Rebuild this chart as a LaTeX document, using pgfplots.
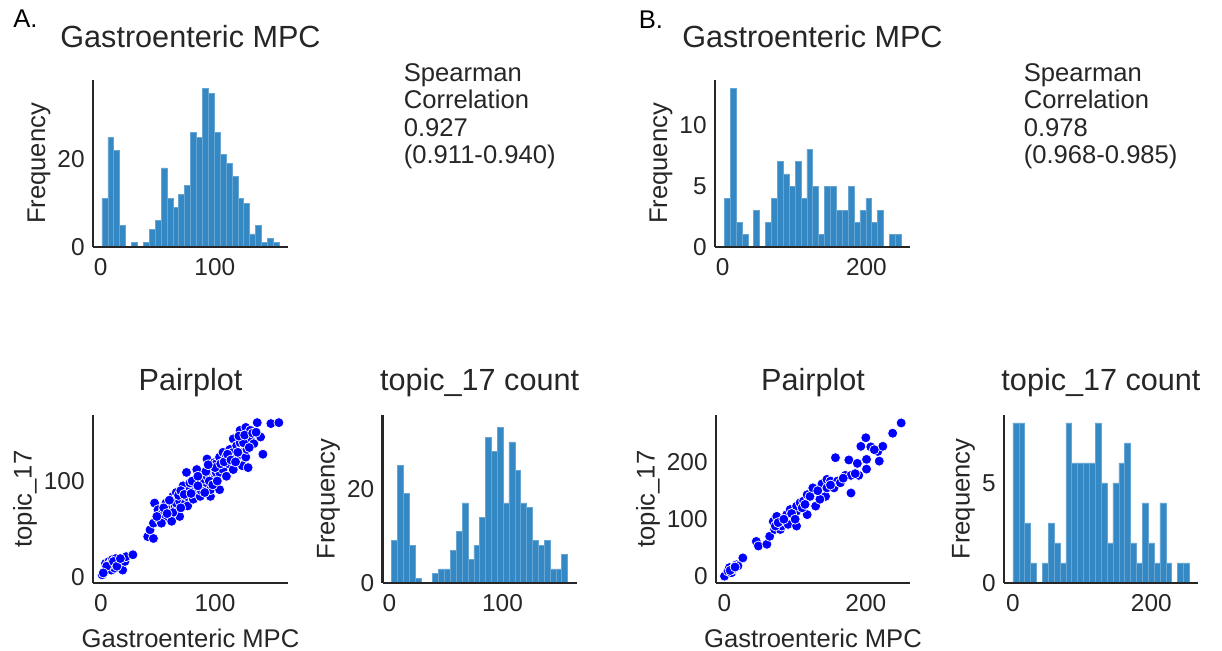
\documentclass[border=0pt]{standalone}
\usepackage{fontspec}
\setmainfont{Liberation Sans}
\usepackage{pgfplots}
\pgfplotsset{compat=1.18}
\definecolor{barblue}{RGB}{52,136,195}
\definecolor{spine}{RGB}{38,38,38}
\pgfplotsset{
  base/.style={
    scale only axis, anchor=south west,
    axis lines=left, axis line style={draw=spine, line width=1.2pt, -},
    axis on top,
    major tick length=0pt,
    tick style={draw=none},
    /pgf/number format/assume math mode=true,
    ticklabel style={font=\fontsize{12.2}{12}\selectfont, text=spine},
    xticklabel style={anchor=north, inner sep=0pt, yshift=-5.5pt},
    yticklabel style={anchor=east, inner sep=0pt, xshift=-4pt},
    label style={font=\fontsize{12.8}{13}\selectfont, text=spine},
    xlabel style={inner sep=0pt, yshift=-8.5pt},
    title style={font=\fontsize{15.3}{15}\selectfont, text=spine, anchor=base},
  },
  hist/.style={base, ymin=0, ylabel={Frequency}},
  histbar/.style={ybar interval, fill=barblue, draw=barblue!75!white, line width=0.3pt},
  dots/.style={only marks, mark=*, mark size=2.5pt, mark options={fill=blue, draw=white, line width=0.35pt}},
}
\begin{document}
\begin{tikzpicture}
\useasboundingbox (0,0) rectangle (611pt,325.5pt);

% ---------------- A: top histogram
\begin{axis}[hist, at={(46.5pt,202pt)}, width=97.5pt, height=83.5pt,
  xmin=-6.6, xmax=164, ymax=38, xtick={0,100}, ytick={0,20},
  title={Gastroenteric MPC}, title style={yshift=10pt}]
\addplot[histbar] coordinates {
(1.2,11) (6.37,25) (11.54,22) (16.71,5) (21.88,0) (27.05,1) (32.22,0) (37.39,1)
(42.56,4) (47.73,6) (52.9,18) (58.07,11) (63.24,9) (68.41,12) (73.58,14) (78.75,26)
(83.92,25) (89.09,36) (94.26,35) (99.43,26) (104.6,21) (109.77,19) (114.94,16) (120.11,11)
(125.28,10) (130.45,3) (135.62,5) (140.79,1) (145.96,2) (151.13,1) (156.3,1)};
\end{axis}

% ---------------- A: pairplot
\begin{axis}[base, at={(46.5pt,34pt)}, width=97.5pt, height=84pt,
  xmin=-7, xmax=164, ymin=-6.5, ymax=169, xtick={0,100}, ytick={0,100},
  xlabel={Gastroenteric MPC}, ylabel={topic\_17},
  title={Pairplot}, title style={yshift=6pt}]
\addplot[dots] coordinates {
(1,2) (3,5) (4,7) (4,14) (6,9) (7,12) (7,16) (9,7) (10,18) (12,9) (12,14) (13,19)
(15,14) (16,16) (18,11) (19,7) (21,16) (22,21) (28,23) (8,13) (5,11) (11,16) (14,11)
(17,19) (2,4)
(41,42) (46,40) (43,49) (46,56) (51,60) (47,77) (50,70) (54,67) (57,77) (60,70) (57,63)
(53,56) (49,63) (63,84) (66,88) (65,74) (69,63) (63,67) (66,77) (69,79) (72,95) (74,77)
(76,74) (75,84) (78,91) (75,109) (82,98) (78,98) (81,81) (84,112) (84,88) (87,84) (87,98)
(90,95) (90,102) (93,105) (93,123) (96,84) (96,91) (97,112) (99,102) (99,119) (101,118)
(101,109) (104,109) (104,91) (104,125) (107,130) (107,112) (110,105) (110,121) (110,126)
(112,118) (113,133) (116,144) (116,112) (116,130) (119,125) (119,137) (122,153) (122,140)
(124,116) (124,130) (127,156) (127,125) (128,133) (129,114) (131,153) (131,144) (134,139)
(137,161) (140,146) (142,128) (149,160) (156,161)
(55,72) (60,80) (68,85) (70,90) (80,100) (85,105) (88,90) (92,110) (95,100) (98,96)
(100,114) (102,100) (105,118) (108,120) (111,128) (114,122) (118,120) (120,130) (125,140)
(121,147) (126,148) (130,135) (133,150) (136,151) (70,72) (73,86) (79,87) (91,88) (85,95)
(94,117) (62,58) (58,66)};
\end{axis}

% ---------------- A: topic_17 count
\begin{axis}[hist, at={(191.3pt,34pt)}, width=97pt, height=84pt,
  xmin=-6, xmax=165.5, ymax=35.7, xtick={0,100}, ytick={0,20},
  title={topic\_17 count}, title style={yshift=6pt}]
\addplot[histbar] coordinates {
(2.1,9) (7.28,25) (12.46,19) (17.64,8) (22.82,1) (28.0,0) (33.18,0) (38.36,2)
(43.54,3) (48.72,3) (53.9,7) (59.08,11) (64.26,17) (69.44,5) (74.62,8) (79.8,14)
(84.98,31) (90.16,28) (95.34,33) (100.52,17) (105.7,30) (110.88,24) (116.06,17) (121.24,16)
(126.42,9) (131.6,8) (136.78,9) (141.96,3) (147.14,3) (152.32,6) (157.5,6)};
\end{axis}

% ---------------- B: top histogram
\begin{axis}[hist, at={(357.5pt,202pt)}, width=97.5pt, height=83.5pt,
  xmin=-10.5, xmax=260.5, ymax=13.7, xtick={0,200}, ytick={0,5,10},
  title={Gastroenteric MPC}, title style={yshift=10pt}]
\addplot[histbar] coordinates {
(2.4,4) (10.6,13) (18.8,2) (27.0,1) (35.2,0) (43.4,3) (51.6,0) (59.8,2)
(68.0,4) (76.2,7) (84.4,6) (92.6,5) (100.8,7) (109.0,4) (117.2,8) (125.4,5)
(133.6,1) (141.8,5) (150.0,5) (158.2,3) (166.4,3) (174.6,5) (182.8,2) (191.0,3)
(199.2,4) (207.4,2) (215.6,3) (223.8,0) (232.0,1) (240.2,1) (248.4,1)};
\end{axis}

% ---------------- B: pairplot
\begin{axis}[base, at={(358pt,34pt)}, width=97pt, height=84pt,
  xmin=-12, xmax=262.5, ymin=-12, ymax=283, xtick={0,200}, ytick={0,100,200},
  xlabel={Gastroenteric MPC}, ylabel={topic\_17},
  title={Pairplot}, title style={yshift=6pt}]
\addplot[dots] coordinates {
(0,0) (5,9) (7,15) (10,6) (12,12) (14,15) (17,20) (19,18) (26,32) (8,10) (15,16)
(45,61) (48,53) (60,56) (64,70) (71,82) (69,96) (74,91) (74,105) (79,82) (81,88) (86,96)
(88,108) (90,91) (93,117) (98,105) (102,114) (102,123) (102,88) (107,129) (112,132)
(117,108) (117,143) (121,140) (125,155) (129,123) (138,162) (143,140) (145,155) (145,170)
(150,167) (155,155) (157,208) (160,167) (164,164) (171,177) (176,204) (179,177) (179,146)
(188,198) (190,177) (193,228) (200,243) (201,205) (201,188) (207,227) (217,219) (219,202)
(224,228) (238,251) (250,269)
(72,88) (76,94) (84,100) (95,110) (100,100) (110,120) (114,126) (135,135) (132,150)
(150,160) (168,172) (185,180) (212,222)};
\end{axis}

% ---------------- B: topic_17 count
\begin{axis}[hist, at={(502pt,34pt)}, width=97pt, height=84pt,
  xmin=-13, xmax=267.5, ymax=8.4, xtick={0,200}, ytick={0,5},
  title={topic\_17 count}, title style={yshift=6pt}]
\addplot[histbar] coordinates {
(0,8) (8.5,8) (17,3) (25.5,1) (34,0) (42.5,1) (51,3) (59.5,2)
(68,1) (76.5,8) (85,6) (93.5,6) (102,6) (110.5,6) (119,8) (127.5,5)
(136,2) (144.5,5) (153,6) (161.5,7) (170,2) (178.5,1) (187,4) (195.5,2)
(204,1) (212.5,4) (221,1) (229.5,0) (238,1) (246.5,1) (255,1)};
\end{axis}

% ---------------- panel letters and correlation text
\node[anchor=base west, inner sep=0pt, font=\fontsize{12.8}{15}\selectfont] at (6.5pt,311.5pt) {A.};
\node[anchor=base west, inner sep=0pt, font=\fontsize{12.8}{15}\selectfont] at (319.2pt,311pt) {B.};
\begin{scope}[every node/.style={anchor=base west, inner sep=0pt, font=\fontsize{12.8}{13}\selectfont, text=spine}]
\node at (201.7pt,284.5pt) {Spearman};
\node at (201.7pt,271pt) {Correlation};
\node at (201.7pt,257.25pt) {0.927};
\node at (201.7pt,243.75pt) {(0.911-0.940)};
\node at (511.7pt,284.5pt) {Spearman};
\node at (511.7pt,271pt) {Correlation};
\node at (511.7pt,257.25pt) {0.978};
\node at (511.7pt,243.75pt) {(0.968-0.985)};
\end{scope}
\end{tikzpicture}
\end{document}
